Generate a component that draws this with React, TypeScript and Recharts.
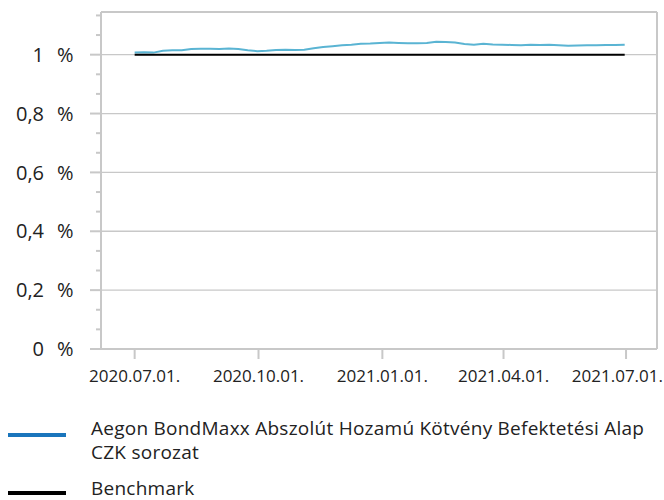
import { LineChart, Line, XAxis, YAxis, CartesianGrid } from "recharts";

// weekly observations
const dates = [
  "2020-07-01", "2020-07-08", "2020-07-15", "2020-07-22", "2020-07-29",
  "2020-08-05", "2020-08-12", "2020-08-19", "2020-08-26", "2020-09-02",
  "2020-09-09", "2020-09-16", "2020-09-23", "2020-09-30", "2020-10-07",
  "2020-10-14", "2020-10-21", "2020-10-28", "2020-11-04", "2020-11-11",
  "2020-11-18", "2020-11-25", "2020-12-02", "2020-12-09", "2020-12-16",
  "2020-12-23", "2020-12-30", "2021-01-06", "2021-01-13", "2021-01-20",
  "2021-01-27", "2021-02-03", "2021-02-10", "2021-02-17", "2021-02-24",
  "2021-03-03", "2021-03-10", "2021-03-17", "2021-03-24", "2021-03-31",
  "2021-04-07", "2021-04-14", "2021-04-21", "2021-04-28", "2021-05-05",
  "2021-05-12", "2021-05-19", "2021-05-26", "2021-06-02", "2021-06-09",
  "2021-06-16", "2021-06-23", "2021-06-30",
];

const fundValues = [
  1.007, 1.008, 1.007, 1.013, 1.015, 1.015, 1.019, 1.02, 1.02, 1.019,
  1.021, 1.019, 1.015, 1.012, 1.013, 1.016, 1.017, 1.016, 1.017, 1.022,
  1.026, 1.029, 1.032, 1.034, 1.037, 1.038, 1.04, 1.041, 1.04, 1.039,
  1.039, 1.04, 1.044, 1.043, 1.041, 1.036, 1.034, 1.037, 1.035, 1.034,
  1.033, 1.032, 1.034, 1.033, 1.034, 1.032, 1.03, 1.031, 1.032, 1.032,
  1.033, 1.033, 1.034,
];

const benchmarkValues = [
  1, 1, 1, 1, 1, 1, 1, 1, 1, 1, 1, 1, 1, 1, 1, 1, 1, 1, 1, 1, 1, 1, 1, 1, 1, 1, 1,
  1, 1, 1, 1, 1, 1, 1, 1, 1, 1, 1, 1, 1, 1, 1, 1, 1, 1, 1, 1, 1, 1, 1, 1, 1, 1,
];

const xTickDates = ["2020-07-01", "2020-10-01", "2021-01-01", "2021-04-01", "2021-07-01"];
const xDomain = ["2020-06-06", "2021-07-24"];
const yMajorTicks = [0, 0.2, 0.4, 0.6, 0.8, 1];
const yAllTicks = [
  0, 0.0667, 0.1333, 0.2, 0.2667, 0.3333, 0.4, 0.4667, 0.5333, 0.6, 0.6667,
  0.7333, 0.8, 0.8667, 0.9333, 1, 1.0667, 1.1333,
];
const yMax = 1.145;

const fundName = "Aegon BondMaxx Abszolút Hozamú Kötvény Befektetési Alap CZK sorozat";
const benchmarkName = "Benchmark";

const toTs = (d: string) => Date.parse(d + "T00:00:00Z");

const data = dates.map((d, i) => ({
  ts: toTs(d),
  fund: fundValues[i],
  benchmark: benchmarkValues[i],
}));

// the chart uses the whole page, edge to edge
if (typeof document !== "undefined") document.body.style.margin = "0";

const FONT = "'Open Sans', Roboto, sans-serif";
const GRAY = "#c8c8c8";
const TEXT = "#222222";
const CHART_W = 664;

const fmtDate = (ts: number) => {
  const d = new Date(ts);
  const mm = String(d.getUTCMonth() + 1).padStart(2, "0");
  const dd = String(d.getUTCDate()).padStart(2, "0");
  return `${d.getUTCFullYear()}.${mm}.${dd}.`;
};

const XTick = (props: any) => {
  const { x, y, payload } = props;
  const halfW = 47;
  const overflow = x + halfW > CHART_W;
  return (
    <text
      x={overflow ? CHART_W - 1 : x}
      y={y}
      dy="0.9em"
      textAnchor={overflow ? "end" : "middle"}
      fontSize={17}
      fill={TEXT}
      fontFamily={FONT}
    >
      {fmtDate(payload.value)}
    </text>
  );
};

const YTick = (props: any) => {
  const { x, y, payload } = props;
  const v = payload.value as number;
  const major = yMajorTicks.some((m) => Math.abs(m - v) < 1e-6);
  return (
    <g>
      <line x1={x - (major ? 11 : 5)} x2={x} y1={y} y2={y} stroke={GRAY} strokeWidth={2} />
      {major && (
        <>
          <text x={x - 57} y={y} dy="0.36em" textAnchor="end" fontSize={20} fill={TEXT} fontFamily={FONT}>
            {String(v).replace(".", ",")}
          </text>
          <text x={x - 44} y={y} dy="0.36em" textAnchor="start" fontSize={20} fill={TEXT} fontFamily={FONT}>
            %
          </text>
        </>
      )}
    </g>
  );
};

export default function App() {
  return (
    <div style={{ position: "relative", width: CHART_W, height: 500, fontFamily: FONT, overflow: "hidden" }}>
      <LineChart
        width={CHART_W}
        height={398}
        data={data}
        margin={{ top: 12, right: 7, bottom: 4, left: 0 }}
      >
        <CartesianGrid vertical={false} horizontalValues={yMajorTicks} stroke={GRAY} strokeWidth={1.3} />
        {/* plot frame: top and right edges */}
        <CartesianGrid
          horizontalValues={[yMax]}
          verticalValues={[toTs(xDomain[1])]}
          stroke={GRAY}
          strokeWidth={2}
        />
        <XAxis
          dataKey="ts"
          type="number"
          domain={xDomain.map(toTs)}
          ticks={xTickDates.map(toTs)}
          axisLine={{ stroke: GRAY, strokeWidth: 2 }}
          tickLine={{ stroke: GRAY, strokeWidth: 2 }}
          tickSize={10}
          tickMargin={8}
          height={45}
          tick={<XTick />}
          interval={0}
        />
        <YAxis
          domain={[0, yMax]}
          ticks={yAllTicks}
          interval={0}
          width={101}
          tickSize={0}
          tickMargin={0}
          axisLine={{ stroke: GRAY, strokeWidth: 2 }}
          tickLine={false}
          tick={<YTick />}
        />
        <Line
          dataKey="fund"
          name={fundName}
          stroke="#5ab4d3"
          strokeWidth={2}
          dot={false}
          type="linear"
          isAnimationActive={false}
        />
        <Line
          dataKey="benchmark"
          name={benchmarkName}
          stroke="#000000"
          strokeWidth={2}
          dot={false}
          type="linear"
          isAnimationActive={false}
        />
      </LineChart>

      {/* legend */}
      <div style={{ position: "absolute", left: 8, top: 433, width: 58, height: 4, background: "#1a75bc" }} />
      <div
        style={{
          position: "absolute",
          left: 91,
          top: 416,
          width: 565,
          fontSize: 19,
          letterSpacing: "0.25px",
          lineHeight: "24px",
          color: TEXT,
        }}
      >
        {fundName}
      </div>
      <div style={{ position: "absolute", left: 8, top: 491, width: 58, height: 4, background: "#000000" }} />
      <div
        style={{
          position: "absolute",
          left: 91,
          top: 478,
          fontSize: 19,
          letterSpacing: "0.25px",
          lineHeight: "20px",
          color: TEXT,
        }}
      >
        {benchmarkName}
      </div>
    </div>
  );
}
